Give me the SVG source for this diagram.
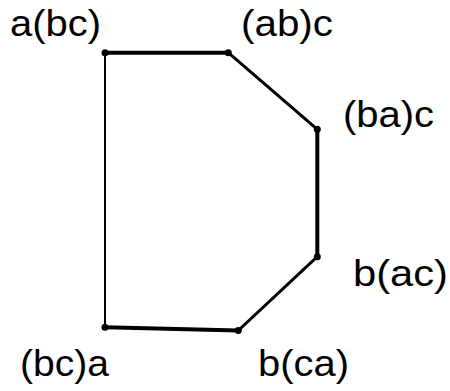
<svg xmlns="http://www.w3.org/2000/svg" width="450" height="391" viewBox="0 0 450 391">
<style>
.lbl{font-family:"Liberation Sans",Arial,sans-serif;font-size:37px;fill:#000}
.e{stroke:#000;fill:none;stroke-linecap:round}
.d{fill:#000}
</style>
<rect width="450" height="391" fill="#fff"/>
<g id="connectors">
<line class="e" x1="105" y1="52.7" x2="228.3" y2="52.7" stroke-width="4"/>
<line class="e" x1="228.3" y1="52.7" x2="317.3" y2="129.3" stroke-width="3"/>
<line class="e" x1="317.3" y1="129.3" x2="317.3" y2="256.7" stroke-width="4"/>
<line class="e" x1="317.3" y1="256.7" x2="238.3" y2="330.5" stroke-width="3"/>
<line class="e" x1="105" y1="327.3" x2="238.3" y2="330.5" stroke-width="4"/>
<line class="e" x1="105" y1="52.7" x2="105" y2="327.3" stroke-width="2"/>
</g>
<g id="n_abc1"><circle class="d" cx="105" cy="52.7" r="3.5"/><text class="lbl" x="10" y="36" textLength="91" lengthAdjust="spacingAndGlyphs">a(bc)</text></g>
<g id="n_abc2"><circle class="d" cx="228.3" cy="52.7" r="3.5"/><text class="lbl" x="241" y="36" textLength="92" lengthAdjust="spacingAndGlyphs">(ab)c</text></g>
<g id="n_bac1"><circle class="d" cx="317.3" cy="129.3" r="3.5"/><text class="lbl" x="343" y="127" textLength="91" lengthAdjust="spacingAndGlyphs">(ba)c</text></g>
<g id="n_bac2"><circle class="d" cx="317.3" cy="256.7" r="3.5"/><text class="lbl" x="353" y="286" textLength="95" lengthAdjust="spacingAndGlyphs">b(ac)</text></g>
<g id="n_bca1"><circle class="d" cx="238.3" cy="330.5" r="3.5"/><text class="lbl" x="258" y="376" textLength="91" lengthAdjust="spacingAndGlyphs">b(ca)</text></g>
<g id="n_bca2"><circle class="d" cx="105" cy="327.3" r="3.5"/><text class="lbl" x="20" y="376" textLength="89" lengthAdjust="spacingAndGlyphs">(bc)a</text></g>
</svg>
